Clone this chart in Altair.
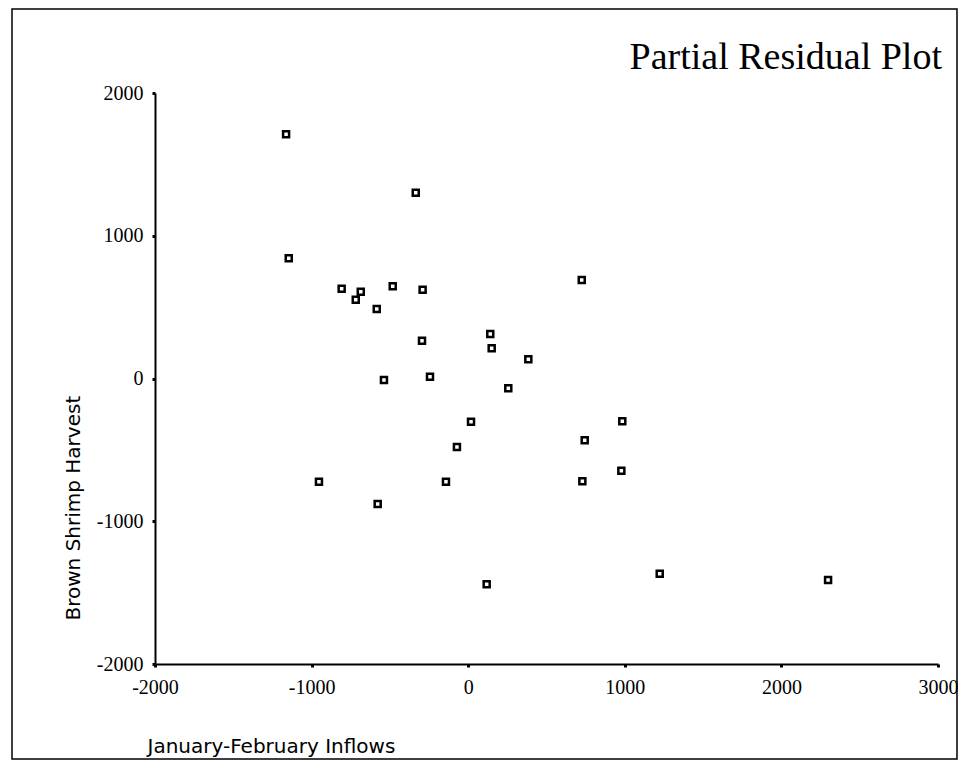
import altair as alt
import pandas as pd

# Data
inflows = [-1163, -335, -1146, -808, -686, -718, -482, -291, -584, -295,
           -538, -244, 18, -72, -953, -142, -578, 725, 141, 150,
           384, 256, 984, 744, 978, 729, 118, 1223, 2298]
harvest = [1711, 1302, 842, 629, 608, 552, 646, 622, 487, 265,
           -11, 13, -303, -480, -723, -723, -879, 690, 312, 212,
           134, -69, -300, -433, -646, -720, -1442, -1367, -1412]

x_ticks = [-2000, -1000, 0, 1000, 2000, 3000]
y_ticks = [-2000, -1000, 0, 1000, 2000]

chart_title = "Partial Residual Plot"
x_title = "January-February Inflows"
y_title = "Brown Shrimp Harvest"

df = pd.DataFrame({"inflow": inflows, "harvest": harvest})

W, H = 783, 571
label_expr = "'' + datum.value"

points = alt.Chart(df).mark_point(
    shape="square", filled=False, color="black", size=36, strokeWidth=2.5, opacity=1
).encode(
    x=alt.X("inflow:Q",
            scale=alt.Scale(domain=[-2000, 3000], nice=False, zero=False),
            axis=alt.Axis(values=x_ticks, title=x_title, labelExpr=label_expr,
                          labelFlush=False, labelOverlap=False,
                          titleAnchor="start", titleAlign="left",
                          titleX=-8, titleY=88, titleBaseline="alphabetic")),
    y=alt.Y("harvest:Q",
            scale=alt.Scale(domain=[-2000, 2000], nice=False, zero=False),
            axis=alt.Axis(values=y_ticks, title=y_title, labelExpr=label_expr,
                          labelFlush=False, labelOverlap=False,
                          titleAngle=270, titleAlign="left",
                          titleX=-76, titleY=527, titleBaseline="alphabetic")),
)

border = alt.Chart(alt.Data(values=[{"a": 1}])).mark_rect(
    fillOpacity=0, stroke="black", strokeWidth=1.5
).encode(
    x=alt.value(-143), x2=alt.value(802), y=alt.value(-84), y2=alt.value(666)
)

title_text = alt.Chart(alt.Data(values=[{"t": chart_title}])).mark_text(
    font="Liberation Serif", fontSize=38, align="right", baseline="alphabetic", color="black"
).encode(
    text="t:N", x=alt.value(787), y=alt.value(-24)
)

chart = alt.layer(border, points, title_text).properties(
    width=W, height=H,
    autosize=alt.AutoSizeParams(type="none"),
    padding={"left": 147, "top": 85, "right": 20, "bottom": 96},
).configure_view(
    stroke=None
).configure_axis(
    grid=False,
    domainColor="black", domainWidth=2,
    tickColor="black", tickSize=3, tickWidth=3,
    labelFont="Liberation Serif", labelFontSize=20, labelColor="black",
    labelPadding=9,
    titleFont="DejaVu Sans", titleFontSize=20, titleFontWeight="normal", titleColor="black",
).configure_axisX(
    labelPadding=10
)

chart.save("out.html", embed_options={"renderer": "svg", "actions": False})
